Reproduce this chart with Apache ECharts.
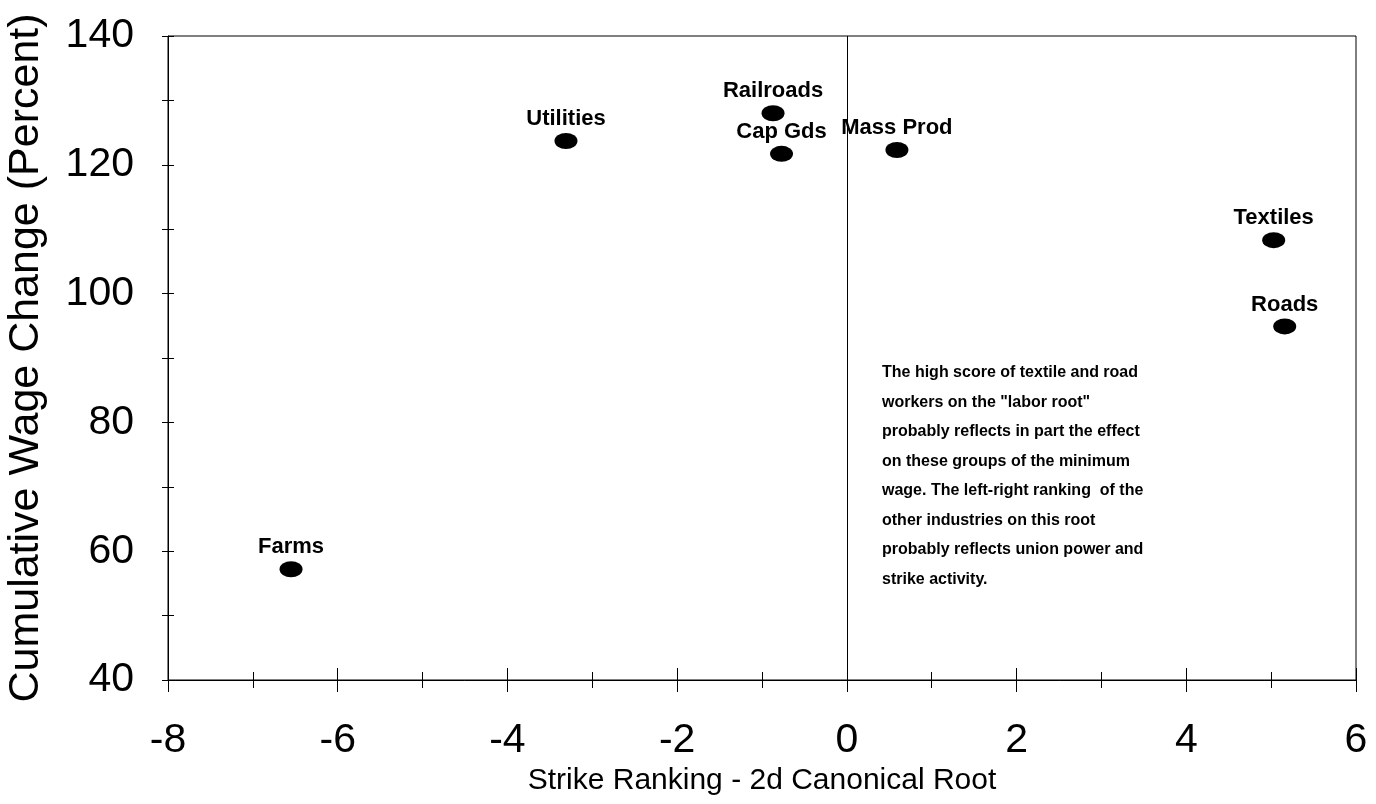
<!DOCTYPE html>
<html>
<head>
<meta charset="utf-8">
<title>Strike Ranking vs Cumulative Wage Change</title>
<script src="https://cdn.jsdelivr.net/npm/echarts@6/dist/echarts.min.js"></script>
<style>
  html, body { margin: 0; padding: 0; background: #fff; }
  #chart { width: 1376px; height: 804px; }
</style>
</head>
<body>
<div id="chart"></div>
<script>
// industries and their scores
const industries = ['Utilities', 'Railroads', 'Cap Gds', 'Mass Prod', 'Textiles', 'Roads', 'Farms']
const strikeRank = [-3.31, -0.87, -0.77, 0.59, 5.03, 5.16, -6.55]
const wageChange = [123.7, 128.0, 121.7, 122.3, 108.3, 94.9, 57.2]

// axis ranges
const xMin = -8, xMax = 6, xStep = 2
const yMin = 40, yMax = 140, yStep = 20

const noteLines = [
  'The high score of textile and road',
  'workers on the "labor root"',
  'probably reflects in part the effect',
  'on these groups of the minimum',
  'wage. The left-right ranking  of the',
  'other industries on this root',
  'probably reflects union power and',
  'strike activity.'
]

const font = '"Liberation Sans", Arial, sans-serif'
const chart = echarts.init(document.getElementById('chart'))

const tickStyle = { color: '#000', width: 1 }

const points = strikeRank.map((x, i) => ({ name: industries[i], value: [x, wageChange[i]] }))

const option = {
  animation: false,
  textStyle: { fontFamily: font, color: '#000' },
  grid: {
    left: 168, right: 20, top: 36, bottom: 124,
    outerBoundsMode: 'none',
    show: true, borderColor: '#000', borderWidth: 1, backgroundColor: 'transparent'
  },
  xAxis: [
    {
      type: 'value', min: xMin, max: xMax, interval: xStep,
      name: 'Strike Ranking - 2d Canonical Root',
      nameLocation: 'middle', nameGap: 84,
      nameTextStyle: { fontSize: 30, color: '#000', fontFamily: font },
      axisLine: { show: true, onZero: false, lineStyle: { color: '#000', width: 1 } },
      axisTick: { show: true, length: 12, lineStyle: tickStyle },
      minorTick: { show: true, splitNumber: 2, length: 8, lineStyle: tickStyle },
      axisLabel: { fontSize: 41, color: '#000', margin: 40, fontFamily: font },
      splitLine: { show: false }
    },
    {
      // same ticks pointing into the plot so they cross the axis
      type: 'value', min: xMin, max: xMax, interval: xStep,
      position: 'bottom',
      axisLine: { show: false, onZero: false },
      axisTick: { show: true, inside: true, length: 12, lineStyle: tickStyle },
      minorTick: { show: true, splitNumber: 2, length: 8, lineStyle: tickStyle },
      axisLabel: { show: false },
      splitLine: { show: false }
    }
  ],
  yAxis: [
    {
      type: 'value', min: yMin, max: yMax, interval: yStep,
      name: 'Cumulative Wage Change (Percent)',
      nameLocation: 'middle', nameGap: 120, nameRotate: 90,
      nameTextStyle: { fontSize: 43, color: '#000', fontFamily: font },
      axisLine: { show: true, onZero: false, lineStyle: { color: '#000', width: 1 } },
      axisTick: { show: true, length: 6, lineStyle: tickStyle },
      minorTick: { show: true, splitNumber: 2, length: 6, lineStyle: tickStyle },
      axisLabel: { fontSize: 41, color: '#000', margin: 34, fontFamily: font },
      splitLine: { show: false }
    },
    {
      type: 'value', min: yMin, max: yMax, interval: yStep,
      position: 'left',
      axisLine: { show: false, onZero: false },
      axisTick: { show: true, inside: true, length: 6, lineStyle: tickStyle },
      minorTick: { show: true, splitNumber: 2, length: 6, lineStyle: tickStyle },
      axisLabel: { show: false },
      splitLine: { show: false }
    }
  ],
  series: [
    {
      type: 'scatter',
      data: points,
      symbol: 'circle',
      symbolSize: [23, 16],
      itemStyle: { color: '#000', opacity: 1 },
      label: {
        show: true,
        position: 'top',
        distance: 3,
        formatter: p => p.name,
        fontSize: 22,
        fontWeight: 'bold',
        color: '#000',
        fontFamily: font
      },
      markLine: {
        silent: true,
        symbol: 'none',
        label: { show: false },
        lineStyle: { color: '#000', width: 1, type: 'solid', opacity: 1 },
        data: [{ xAxis: 0 }]
      }
    }
  ],
  graphic: [
    {
      type: 'text',
      left: 882,
      top: 358,
      style: {
        text: noteLines.join('\n'),
        font: 'bold 16px "Liberation Sans Narrow", "Liberation Sans", Arial, sans-serif',
        lineHeight: 29.5,
        fill: '#000'
      }
    }
  ]
}

chart.setOption(option)
window.addEventListener('resize', () => chart.resize())
</script>
</body>
</html>
